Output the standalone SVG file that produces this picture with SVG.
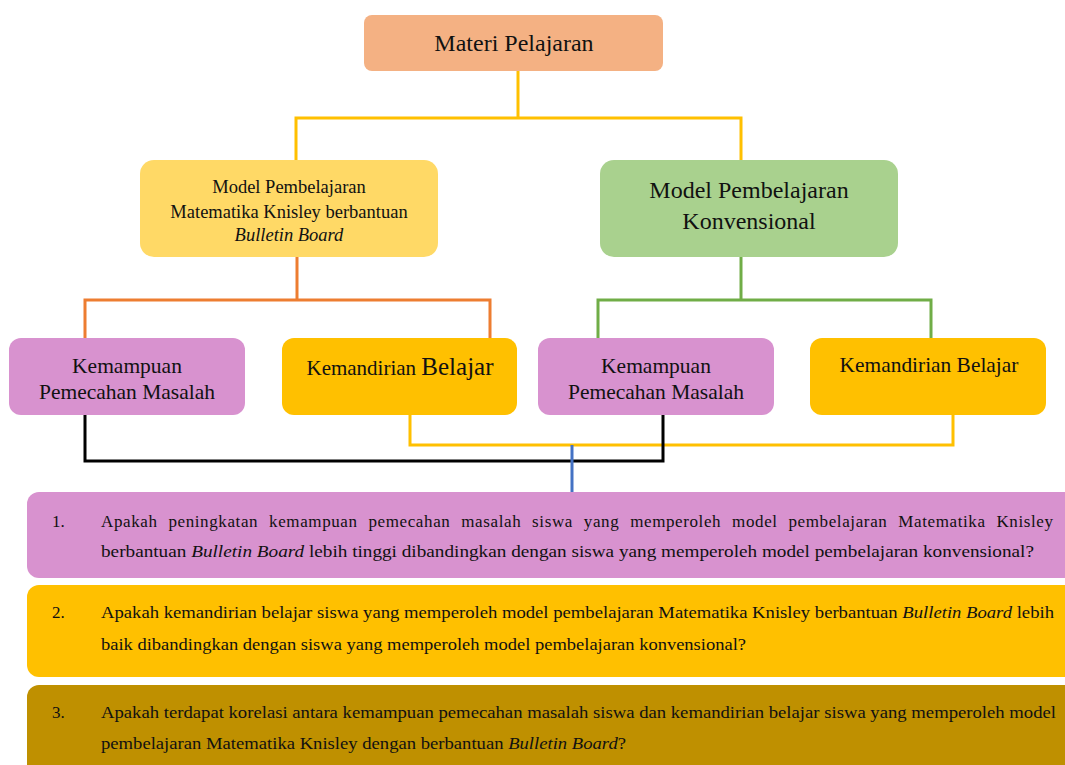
<svg xmlns="http://www.w3.org/2000/svg" width="1065" height="765" viewBox="0 0 1065 765">
<style>
text{font-family:"Liberation Serif","Times New Roman",serif;fill:#111}
.c{text-anchor:middle}
.ln{fill:none;stroke-width:3}
.q{font-size:17px}
</style>
<rect width="1065" height="765" fill="#fff"/>
<g id="connectors">
<polyline class="ln" stroke="#FFC000" points="518,71 518,118"/>
<polyline class="ln" stroke="#FFC000" points="296,160 296,118 741,118 741,160"/>
<polyline class="ln" stroke="#ED7D31" points="297,257 297,300"/>
<polyline class="ln" stroke="#ED7D31" points="85,338 85,300 490,300 490,338"/>
<polyline class="ln" stroke="#70AD47" points="741,257 741,300"/>
<polyline class="ln" stroke="#70AD47" points="598,338 598,300 931,300 931,338"/>
<polyline class="ln" stroke="#FFC000" points="410,415 410,445 953,445 953,415"/>
<polyline class="ln" stroke="#000" points="85,415 85,461 663,461 663,415"/>
<polyline class="ln" stroke="#4472C4" points="572,445 572,492"/>
</g>
<g id="materi">
<rect x="364" y="15" width="299" height="56" rx="8" fill="#F4B183"/>
<text class="c" x="514" y="51" font-size="24">Materi Pelajaran</text>
</g>
<g id="model-knisley">
<rect x="140" y="160" width="298" height="97" rx="14" fill="#FFD966"/>
<text class="c" x="289" y="193" font-size="18.5">Model Pembelajaran</text>
<text class="c" x="289" y="218" font-size="18.5">Matematika Knisley berbantuan</text>
<text class="c" x="289" y="241" font-size="18.5" font-style="italic">Bulletin Board</text>
</g>
<g id="model-konvensional">
<rect x="600" y="160" width="298" height="97" rx="14" fill="#A9D18E"/>
<text class="c" x="749" y="198" font-size="24">Model Pembelajaran</text>
<text class="c" x="749" y="229" font-size="24">Konvensional</text>
</g>
<g id="kpm-1">
<rect x="9" y="338" width="236" height="77" rx="12" fill="#D892CF"/>
<text class="c" x="127" y="373" font-size="21.5">Kemampuan</text>
<text class="c" x="127" y="399" font-size="21.5">Pemecahan Masalah</text>
</g>
<g id="kb-1">
<rect x="282" y="338" width="235" height="77" rx="12" fill="#FFC000"/>
<text class="c" x="400" y="375"><tspan font-size="21">Kemandirian </tspan><tspan font-size="25">Belajar</tspan></text>
</g>
<g id="kpm-2">
<rect x="538" y="338" width="236" height="77" rx="12" fill="#D892CF"/>
<text class="c" x="656" y="373" font-size="21.5">Kemampuan</text>
<text class="c" x="656" y="399" font-size="21.5">Pemecahan Masalah</text>
</g>
<g id="kb-2">
<rect x="810" y="338" width="236" height="77" rx="12" fill="#FFC000"/>
<text class="c" x="929" y="372" font-size="21.4">Kemandirian Belajar</text>
</g>
<g id="q1">
<rect x="27" y="492" width="1060" height="86" rx="12" fill="#D892CF"/>
<text class="q" x="52" y="527">1.</text>
<text class="q" x="101" y="527" word-spacing="6" textLength="952" lengthAdjust="spacing">Apakah peningkatan kemampuan pemecahan masalah siswa yang memperoleh model pembelajaran Matematika Knisley</text>
<text class="q" x="101" y="557" textLength="933" lengthAdjust="spacingAndGlyphs">berbantuan <tspan font-style="italic">Bulletin Board</tspan> lebih tinggi dibandingkan dengan siswa yang memperoleh model pembelajaran konvensional?</text>
</g>
<g id="q2">
<rect x="27" y="585" width="1060" height="92" rx="12" fill="#FFC000"/>
<text class="q" x="52" y="618">2.</text>
<text class="q" x="101" y="618" textLength="953" lengthAdjust="spacingAndGlyphs">Apakah kemandirian belajar siswa yang memperoleh model pembelajaran Matematika Knisley berbantuan <tspan font-style="italic">Bulletin Board</tspan> lebih</text>
<text class="q" x="101" y="650" textLength="645" lengthAdjust="spacingAndGlyphs">baik dibandingkan dengan siswa yang memperoleh model pembelajaran konvensional?</text>
</g>
<g id="q3">
<rect x="27" y="685" width="1060" height="100" rx="12" fill="#BF9000"/>
<text class="q" x="52" y="718">3.</text>
<text class="q" x="101" y="718" textLength="955" lengthAdjust="spacingAndGlyphs">Apakah terdapat korelasi antara kemampuan pemecahan masalah siswa dan kemandirian belajar siswa yang memperoleh model</text>
<text class="q" x="101" y="749" textLength="525" lengthAdjust="spacingAndGlyphs">pembelajaran Matematika Knisley dengan berbantuan <tspan font-style="italic">Bulletin Board</tspan>?</text>
</g>
</svg>
